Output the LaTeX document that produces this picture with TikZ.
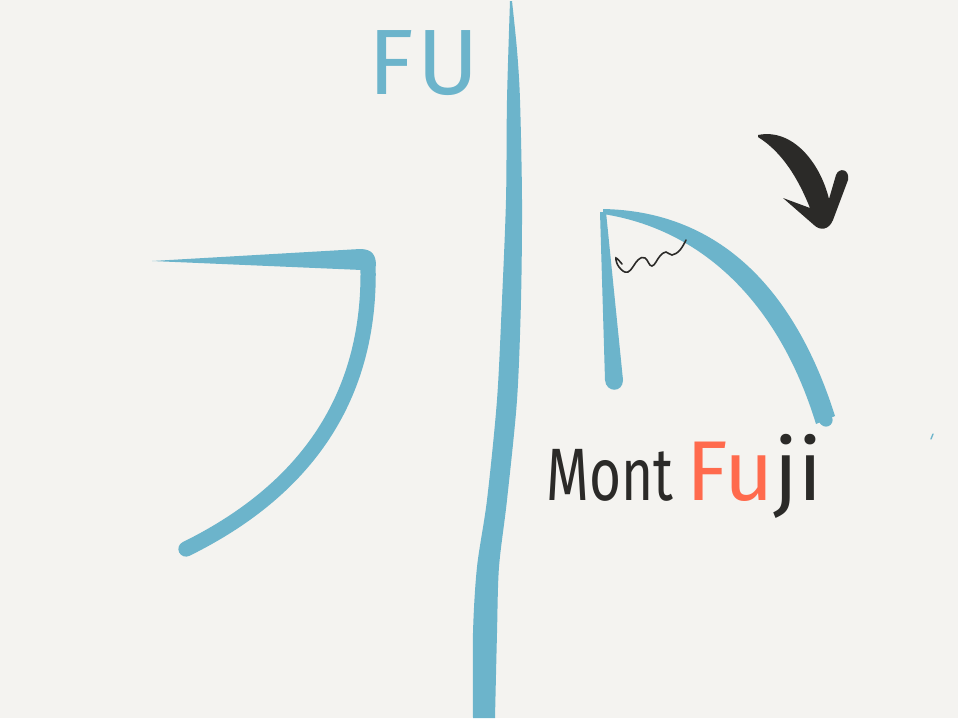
\documentclass[tikz,border=0pt]{standalone}
\usepackage{fontspec}
\setmainfont{Fira Sans}
\newfontfamily\narrowhand[FakeStretch=0.74]{Fira Sans}
\usetikzlibrary{positioning}
\definecolor{paper}{HTML}{F4F3F0}
\definecolor{brush}{HTML}{6CB4CB}
\definecolor{ink}{HTML}{2B2A28}
\definecolor{flame}{HTML}{FF6A4D}
\begin{document}
\begin{tikzpicture}[x=0.0265cm, y=-0.0265cm,
  stroke/.style={draw=brush, line cap=round, line join=round},
  blob/.style={fill=brush},
  word/.style={inner sep=0, anchor=base west}]
\useasboundingbox[fill=paper] (0,0) rectangle (958,718);
% Label: FU
\node[word, text=brush, font=\fontsize{70}{70}\selectfont] (fu) at (368,94) {F\kern3pt U};
% Middle stroke
\fill[blob] plot[smooth] coordinates {(510,1) (507,100) (506,200) (502,300) (497,400) (487,500) (477,567) (473,633) (473,718)}
  -- plot[smooth] coordinates {(495,718) (497,633) (499,567) (507,500) (517,400) (521,300) (522,200) (520,100) (517,50) (512,1)} -- cycle;
% Left shape: flat top, bent leg
\fill[blob] (152,261) -- (360,249) .. controls (373,249) and (376,256) .. (376,266)
  -- (362,270) -- cycle;
\draw[stroke, line width=11.5pt] (368,264) .. controls (371,380) and (322,482) .. (186,549);
% Right shape: short leg and slope
\fill[blob] (600,212) -- (606,212) -- (623,380) .. controls (623,393) and (606,393) .. (605,380) -- cycle;
\fill[blob] (603,209) .. controls (712,211) and (792,280) .. (835,416)
  -- (816,424) .. controls (778,300) and (700,229) .. (603,214) -- cycle;
\draw[stroke, line width=10pt] (825,419) -- (826,420);
% Squiggle
\draw[ink, line width=1.2pt, line cap=round]
  plot[smooth, tension=0.7] coordinates {(622,264) (616,258) (619,267) (628,272) (638,260) (645,258) (652,266) (660,256) (666,252) (672,255) (680,250) (686,240)};
% Arrow
\fill[ink] (758,135) .. controls (792,128) and (820,162) .. (829,199)
  -- (836,175) .. controls (839,167) and (850,169) .. (848,180)
  -- (833,220) .. controls (829,230) and (820,231) .. (814,225)
  -- (783,198) -- (810,208) .. controls (798,178) and (782,152) .. (758,137) -- cycle;
% Stray mark
\draw[stroke, line width=1pt] (931,439) -- (933,434);
% Label: Mont Fuji
\node[word, text=ink, font=\narrowhand\fontsize{56}{56}\selectfont] (mont) at (546,500) {Mont};
\node[word, text=flame, font=\fontsize{64}{64}\selectfont] (fuA) at (686,500) {Fu};
\node[word, text=ink, font=\fontsize{64}{64}\selectfont, base right=0pt of fuA] (fuB) {ji};
\end{tikzpicture}
\end{document}
